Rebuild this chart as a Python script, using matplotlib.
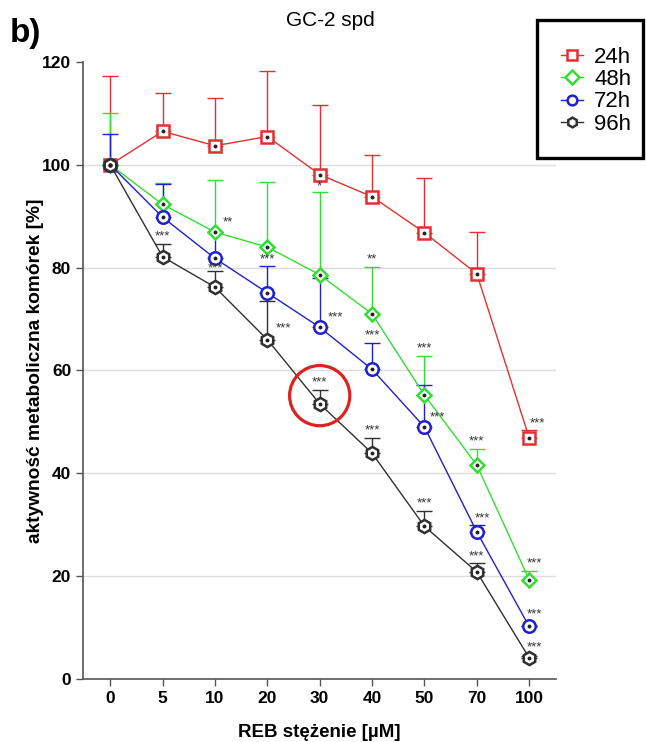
import matplotlib
matplotlib.use('Agg')
import matplotlib.pyplot as plt
from matplotlib.patches import Ellipse, Rectangle
import numpy as np

plt.rcParams['font.family'] = ['Liberation Sans', 'DejaVu Sans']

# Concentrations (categorical x axis)
conc_labels = ['0', '5', '10', '20', '30', '40', '50', '70', '100']

# Mean values [%]
mean_24h = [100, 106.5, 103.7, 105.5, 98.1, 93.8, 86.8, 78.8, 46.9]
mean_48h = [100, 92.3, 86.9, 84.0, 78.6, 71.0, 55.2, 41.6, 19.3]
mean_72h = [100, 89.8, 81.8, 75.1, 68.4, 60.2, 49.0, 28.6, 10.2]
mean_96h = [100, 82.1, 76.2, 66.0, 53.5, 43.9, 29.7, 20.8, 4.1]

# Upper error bar ends [%]
top_24h = [117.2, 113.9, 113.0, 118.2, 111.6, 101.9, 97.5, 87.0, 48.4]
top_48h = [110.0, 96.5, 97.0, 96.6, 94.7, 80.1, 62.8, 44.7, 20.9]
top_72h = [106.0, 96.3, 86.9, 80.3, 78.0, 65.4, 57.2, 30.0, 10.2]
top_96h = [100.0, 84.6, 79.3, 73.6, 56.1, 46.9, 32.6, 22.5, 4.5]

# Significance marks: (x index, y, text)
stars = [
    (1, 86.0, '***'), (2.25, 88.8, '**'), (2, 79.9, '***'),
    (3, 81.6, '***'), (3.3, 68.1, '***'), (4, 95.7, '*'),
    (4.3, 70.4, '***'), (4, 57.7, '***'), (5, 81.6, '**'),
    (5, 66.9, '***'), (5, 48.3, '***'), (6, 64.2, '***'),
    (6.25, 50.8, '***'), (6, 34.1, '***'), (7, 46.2, '***'),
    (7.1, 31.2, '***'), (7, 23.9, '***'), (8.15, 49.7, '***'),
    (8.1, 22.5, '***'), (8.1, 12.5, '***'), (8.1, 6.2, '***'),
]

series = [
    ('24h', mean_24h, top_24h, '#e03030', 's', 8.5),
    ('48h', mean_48h, top_48h, '#33dd33', 'D', 7.5),
    ('72h', mean_72h, top_72h, '#2020d0', 'o', 9),
    ('96h', mean_96h, top_96h, '#303030', 'h', 9.5),
]

fig = plt.figure(figsize=(6.46, 7.42), dpi=100)
ax = fig.add_axes([0.1285, 0.085, 0.732, 0.8315])

x = np.arange(len(conc_labels))
handles = []
for name, mean, top, color, marker, ms in series:
    mean = np.array(mean)
    upper = np.array(top) - mean
    ax.errorbar(x, mean, yerr=[np.zeros_like(upper), upper], color=color,
                lw=1, elinewidth=1, capsize=6, capthick=1, fmt='none',
                zorder=2)
    line, = ax.plot(x, mean, color=color, lw=1, marker=marker,
                    markersize=ms, markerfacecolor='white',
                    markeredgecolor=color, markeredgewidth=1.8, zorder=3)
    ax.plot(x, mean, ls='none', marker='o', markersize=1.8,
            color='#222222', zorder=4)
    handles.append(line)

for xi, yi, txt in stars:
    ax.text(xi, yi, txt, ha='center', va='center', fontsize=9.5,
            color='#333333', zorder=5)

# Red circle highlighting 96h at 30 uM
ax.add_patch(Ellipse((4.0, 55.1), 1.15, 11.7, fill=False,
                     edgecolor='#dd2222', lw=2.3, zorder=6))

ax.set_xlim(-0.52, 8.51)
ax.set_ylim(0, 120)
ax.set_xticks(x)
ax.set_xticklabels(conc_labels)
ax.set_yticks(np.arange(0, 121, 20))
for lab in ax.get_xticklabels() + ax.get_yticklabels():
    lab.set_fontweight('bold')
    lab.set_fontsize(12.5)
ax.tick_params(direction='out', length=5, width=1, color='#555555')
for g in range(20, 101, 20):
    ax.axhline(g, color='#dddddd', lw=1, zorder=0)
for side in ['top', 'right']:
    ax.spines[side].set_visible(False)
for side in ['left', 'bottom']:
    ax.spines[side].set_color('#555555')
    ax.spines[side].set_linewidth(1.2)

ax.set_xlabel('REB stężenie [µM]', fontsize=13.5, fontweight='bold',
              labelpad=13)
ax.set_ylabel('aktywność metaboliczna komórek [%]', fontsize=13.8,
              fontweight='bold')
ax.yaxis.set_label_coords(-0.082, 0.50)

# Legend: frameless, with a separate box drawn in figure coordinates
leg = fig.legend(handles, [s[0] for s in series], loc='upper left',
                 bbox_to_anchor=(0.868, 0.937), fontsize=16,
                 handlelength=1.0, handletextpad=0.5, labelspacing=0.06,
                 borderpad=0.0, borderaxespad=0.0, frameon=False)
for h in leg.legend_handles:
    h.set_markersize(7)
fig.add_artist(Rectangle((0.832, 0.787), 0.163, 0.186,
                         transform=fig.transFigure, fill=False,
                         edgecolor='black', lw=2.4))

fig.text(0.512, 0.973, 'GC-2 spd', fontsize=15, ha='center', va='center')
fig.text(0.015, 0.955, 'b)', fontsize=24, fontweight='bold', va='center')

fig.savefig('out.png', dpi=100)
